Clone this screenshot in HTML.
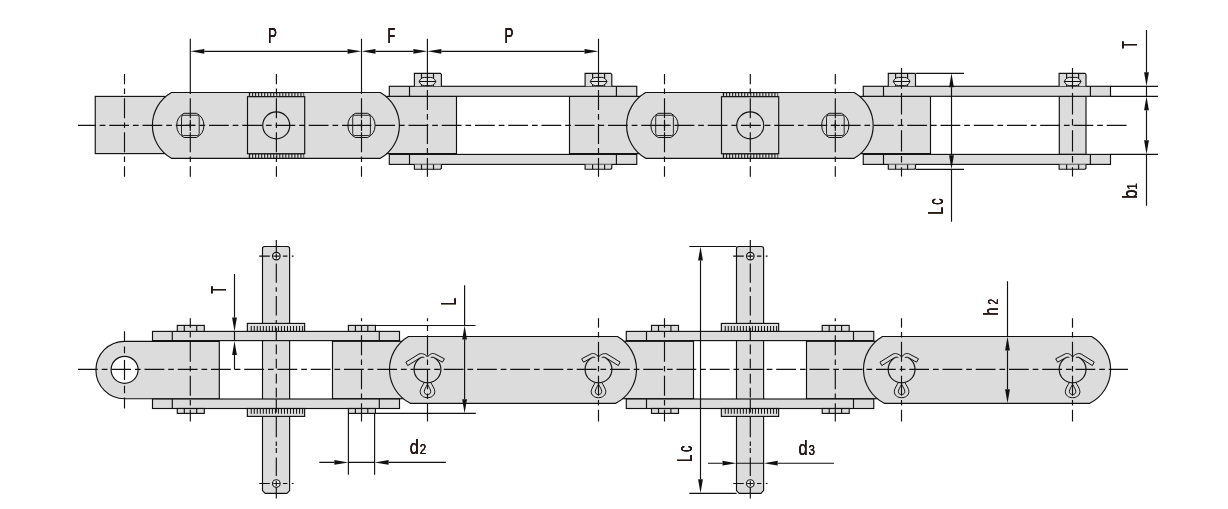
<!DOCTYPE html>
<html lang="en">
<head>
<meta charset="utf-8">
<title>Chain dimension drawing</title>
<style>
html,body{margin:0;padding:0;background:#fff;}
body{width:1228px;height:509px;overflow:hidden;}
svg{display:block;}
text{font-family:"Liberation Sans",sans-serif;fill:#231815;}
</style>
</head>
<body>
<svg width="1228" height="509" viewBox="0 0 1228 509">
<defs><filter id="bh" x="-40%" y="-40%" width="180%" height="180%"><feOffset in="SourceGraphic" dx="0.38" result="a"/><feOffset in="SourceGraphic" dx="-0.38" result="b"/><feMerge><feMergeNode in="a"/><feMergeNode in="b"/><feMergeNode in="SourceGraphic"/></feMerge></filter><filter id="bv" x="-40%" y="-40%" width="180%" height="180%"><feOffset in="SourceGraphic" dy="0.38" result="a"/><feOffset in="SourceGraphic" dy="-0.38" result="b"/><feMerge><feMergeNode in="a"/><feMergeNode in="b"/><feMergeNode in="SourceGraphic"/></feMerge></filter></defs>
<rect x="0" y="0" width="1228" height="509" fill="#ffffff"/>
<g id="topview">
<rect x="95.25" y="96.4" width="69.75" height="57.2" fill="#dcdcdc" stroke="#111111" stroke-width="1.15" />
<rect x="380" y="96.4" width="76.5" height="57.2" fill="#dcdcdc" stroke="#111111" stroke-width="1.15" />
<rect x="569.5" y="96.4" width="76.5" height="57.2" fill="#dcdcdc" stroke="#111111" stroke-width="1.15" />
<rect x="854" y="96.4" width="76.5" height="57.2" fill="#dcdcdc" stroke="#111111" stroke-width="1.15" />
<rect x="1059.3" y="96.3" width="26.7" height="58.1" fill="#dcdcdc" stroke="#111111" stroke-width="1.15" />
<path d="M171.49 92.5 L380.31 92.5 A37.9 37.9 0 0 1 380.31 158.3 L171.49 158.3 A37.9 37.9 0 0 1 171.49 92.5 Z" fill="#dcdcdc" stroke="#111111" stroke-width="1.15" />
<rect x="248.85" y="92.4" width="55.3" height="4.4" fill="#111111"/>
<rect x="250.1" y="93.15" width="2" height="2.9" fill="#dedede"/>
<rect x="253.12" y="93.15" width="2" height="2.9" fill="#dedede"/>
<rect x="256.14" y="93.15" width="2" height="2.9" fill="#dedede"/>
<rect x="259.16" y="93.15" width="2" height="2.9" fill="#dedede"/>
<rect x="262.18" y="93.15" width="2" height="2.9" fill="#dedede"/>
<rect x="265.2" y="93.15" width="2" height="2.9" fill="#dedede"/>
<rect x="268.22" y="93.15" width="2" height="2.9" fill="#dedede"/>
<rect x="271.24" y="93.15" width="2" height="2.9" fill="#dedede"/>
<rect x="274.26" y="93.15" width="2" height="2.9" fill="#dedede"/>
<rect x="277.28" y="93.15" width="2" height="2.9" fill="#dedede"/>
<rect x="280.3" y="93.15" width="2" height="2.9" fill="#dedede"/>
<rect x="283.32" y="93.15" width="2" height="2.9" fill="#dedede"/>
<rect x="286.34" y="93.15" width="2" height="2.9" fill="#dedede"/>
<rect x="289.36" y="93.15" width="2" height="2.9" fill="#dedede"/>
<rect x="292.38" y="93.15" width="2" height="2.9" fill="#dedede"/>
<rect x="295.4" y="93.15" width="2" height="2.9" fill="#dedede"/>
<rect x="298.42" y="93.15" width="2" height="2.9" fill="#dedede"/>
<rect x="301.44" y="93.15" width="2" height="2.9" fill="#dedede"/>
<rect x="248.85" y="153.5" width="55.3" height="5" fill="#111111"/>
<rect x="250.1" y="154.25" width="2" height="3.5" fill="#dedede"/>
<rect x="253.12" y="154.25" width="2" height="3.5" fill="#dedede"/>
<rect x="256.14" y="154.25" width="2" height="3.5" fill="#dedede"/>
<rect x="259.16" y="154.25" width="2" height="3.5" fill="#dedede"/>
<rect x="262.18" y="154.25" width="2" height="3.5" fill="#dedede"/>
<rect x="265.2" y="154.25" width="2" height="3.5" fill="#dedede"/>
<rect x="268.22" y="154.25" width="2" height="3.5" fill="#dedede"/>
<rect x="271.24" y="154.25" width="2" height="3.5" fill="#dedede"/>
<rect x="274.26" y="154.25" width="2" height="3.5" fill="#dedede"/>
<rect x="277.28" y="154.25" width="2" height="3.5" fill="#dedede"/>
<rect x="280.3" y="154.25" width="2" height="3.5" fill="#dedede"/>
<rect x="283.32" y="154.25" width="2" height="3.5" fill="#dedede"/>
<rect x="286.34" y="154.25" width="2" height="3.5" fill="#dedede"/>
<rect x="289.36" y="154.25" width="2" height="3.5" fill="#dedede"/>
<rect x="292.38" y="154.25" width="2" height="3.5" fill="#dedede"/>
<rect x="295.4" y="154.25" width="2" height="3.5" fill="#dedede"/>
<rect x="298.42" y="154.25" width="2" height="3.5" fill="#dedede"/>
<rect x="301.44" y="154.25" width="2" height="3.5" fill="#dedede"/>
<rect x="247.5" y="96.7" width="57.2" height="57" fill="#dcdcdc" stroke="#111111" stroke-width="1.15" />
<circle cx="276.25" cy="125.4" r="13.5" fill="none" stroke="#111111" stroke-width="1.15"/>
<path d="M184.09 113.3 L196.51 113.3 A13.6 13.6 0 0 1 196.51 137.5 L184.09 137.5 A13.6 13.6 0 0 1 184.09 113.3 Z" fill="none" stroke="#111111" stroke-width="1" />
<rect x="181.5" y="115.25" width="17.7" height="20.3" rx="2" ry="2" fill="none" stroke="#111111" stroke-width="0.9"/>
<line x1="190.3" y1="119.7" x2="190.3" y2="131" stroke="#111111" stroke-width="1.15"/>
<line x1="185.7" y1="125.4" x2="194.9" y2="125.4" stroke="#111111" stroke-width="1.15"/>
<path d="M355.29 113.3 L367.71 113.3 A13.6 13.6 0 0 1 367.71 137.5 L355.29 137.5 A13.6 13.6 0 0 1 355.29 113.3 Z" fill="none" stroke="#111111" stroke-width="1" />
<rect x="352.7" y="115.25" width="17.7" height="20.3" rx="2" ry="2" fill="none" stroke="#111111" stroke-width="0.9"/>
<line x1="361.5" y1="119.7" x2="361.5" y2="131" stroke="#111111" stroke-width="1.15"/>
<line x1="356.9" y1="125.4" x2="366.1" y2="125.4" stroke="#111111" stroke-width="1.15"/>
<path d="M645.69 92.5 L854.11 92.5 A37.9 37.9 0 0 1 854.11 158.3 L645.69 158.3 A37.9 37.9 0 0 1 645.69 92.5 Z" fill="#dcdcdc" stroke="#111111" stroke-width="1.15" />
<rect x="722.85" y="92.4" width="55.3" height="4.4" fill="#111111"/>
<rect x="724.1" y="93.15" width="2" height="2.9" fill="#dedede"/>
<rect x="727.12" y="93.15" width="2" height="2.9" fill="#dedede"/>
<rect x="730.14" y="93.15" width="2" height="2.9" fill="#dedede"/>
<rect x="733.16" y="93.15" width="2" height="2.9" fill="#dedede"/>
<rect x="736.18" y="93.15" width="2" height="2.9" fill="#dedede"/>
<rect x="739.2" y="93.15" width="2" height="2.9" fill="#dedede"/>
<rect x="742.22" y="93.15" width="2" height="2.9" fill="#dedede"/>
<rect x="745.24" y="93.15" width="2" height="2.9" fill="#dedede"/>
<rect x="748.26" y="93.15" width="2" height="2.9" fill="#dedede"/>
<rect x="751.28" y="93.15" width="2" height="2.9" fill="#dedede"/>
<rect x="754.3" y="93.15" width="2" height="2.9" fill="#dedede"/>
<rect x="757.32" y="93.15" width="2" height="2.9" fill="#dedede"/>
<rect x="760.34" y="93.15" width="2" height="2.9" fill="#dedede"/>
<rect x="763.36" y="93.15" width="2" height="2.9" fill="#dedede"/>
<rect x="766.38" y="93.15" width="2" height="2.9" fill="#dedede"/>
<rect x="769.4" y="93.15" width="2" height="2.9" fill="#dedede"/>
<rect x="772.42" y="93.15" width="2" height="2.9" fill="#dedede"/>
<rect x="775.44" y="93.15" width="2" height="2.9" fill="#dedede"/>
<rect x="722.85" y="153.5" width="55.3" height="5" fill="#111111"/>
<rect x="724.1" y="154.25" width="2" height="3.5" fill="#dedede"/>
<rect x="727.12" y="154.25" width="2" height="3.5" fill="#dedede"/>
<rect x="730.14" y="154.25" width="2" height="3.5" fill="#dedede"/>
<rect x="733.16" y="154.25" width="2" height="3.5" fill="#dedede"/>
<rect x="736.18" y="154.25" width="2" height="3.5" fill="#dedede"/>
<rect x="739.2" y="154.25" width="2" height="3.5" fill="#dedede"/>
<rect x="742.22" y="154.25" width="2" height="3.5" fill="#dedede"/>
<rect x="745.24" y="154.25" width="2" height="3.5" fill="#dedede"/>
<rect x="748.26" y="154.25" width="2" height="3.5" fill="#dedede"/>
<rect x="751.28" y="154.25" width="2" height="3.5" fill="#dedede"/>
<rect x="754.3" y="154.25" width="2" height="3.5" fill="#dedede"/>
<rect x="757.32" y="154.25" width="2" height="3.5" fill="#dedede"/>
<rect x="760.34" y="154.25" width="2" height="3.5" fill="#dedede"/>
<rect x="763.36" y="154.25" width="2" height="3.5" fill="#dedede"/>
<rect x="766.38" y="154.25" width="2" height="3.5" fill="#dedede"/>
<rect x="769.4" y="154.25" width="2" height="3.5" fill="#dedede"/>
<rect x="772.42" y="154.25" width="2" height="3.5" fill="#dedede"/>
<rect x="775.44" y="154.25" width="2" height="3.5" fill="#dedede"/>
<rect x="721.5" y="96.7" width="57.2" height="57" fill="#dcdcdc" stroke="#111111" stroke-width="1.15" />
<circle cx="750.25" cy="125.4" r="13.5" fill="none" stroke="#111111" stroke-width="1.15"/>
<path d="M658.29 113.3 L670.71 113.3 A13.6 13.6 0 0 1 670.71 137.5 L658.29 137.5 A13.6 13.6 0 0 1 658.29 113.3 Z" fill="none" stroke="#111111" stroke-width="1" />
<rect x="655.7" y="115.25" width="17.7" height="20.3" rx="2" ry="2" fill="none" stroke="#111111" stroke-width="0.9"/>
<line x1="664.5" y1="119.7" x2="664.5" y2="131" stroke="#111111" stroke-width="1.15"/>
<line x1="659.9" y1="125.4" x2="669.1" y2="125.4" stroke="#111111" stroke-width="1.15"/>
<path d="M829.09 113.3 L841.51 113.3 A13.6 13.6 0 0 1 841.51 137.5 L829.09 137.5 A13.6 13.6 0 0 1 829.09 113.3 Z" fill="none" stroke="#111111" stroke-width="1" />
<rect x="826.5" y="115.25" width="17.7" height="20.3" rx="2" ry="2" fill="none" stroke="#111111" stroke-width="0.9"/>
<line x1="835.3" y1="119.7" x2="835.3" y2="131" stroke="#111111" stroke-width="1.15"/>
<line x1="830.7" y1="125.4" x2="839.9" y2="125.4" stroke="#111111" stroke-width="1.15"/>
<rect x="389.3" y="86.3" width="247.45" height="10" fill="#dcdcdc" stroke="#111111" stroke-width="1.15" />
<line x1="409.5" y1="86.3" x2="409.5" y2="96.3" stroke="#111111" stroke-width="1.15"/>
<line x1="616.4" y1="86.3" x2="616.4" y2="96.3" stroke="#111111" stroke-width="1.15"/>
<rect x="389.3" y="154.4" width="247.45" height="10" fill="#dcdcdc" stroke="#111111" stroke-width="1.15" />
<line x1="409.5" y1="154.4" x2="409.5" y2="164.4" stroke="#111111" stroke-width="1.15"/>
<line x1="616.4" y1="154.4" x2="616.4" y2="164.4" stroke="#111111" stroke-width="1.15"/>
<rect x="863.25" y="86.3" width="247.25" height="10" fill="#dcdcdc" stroke="#111111" stroke-width="1.15" />
<line x1="883.5" y1="86.3" x2="883.5" y2="96.3" stroke="#111111" stroke-width="1.15"/>
<line x1="1090.4" y1="86.3" x2="1090.4" y2="96.3" stroke="#111111" stroke-width="1.15"/>
<rect x="863.25" y="154.4" width="247.25" height="10" fill="#dcdcdc" stroke="#111111" stroke-width="1.15" />
<line x1="883.5" y1="154.4" x2="883.5" y2="164.4" stroke="#111111" stroke-width="1.15"/>
<line x1="1090.4" y1="154.4" x2="1090.4" y2="164.4" stroke="#111111" stroke-width="1.15"/>
<path d="M414.4 86.3 L414.4 73.4 L440.4 73.4 L441.4 74.4 L441.4 86.3" fill="#dcdcdc" stroke="#111111" stroke-width="1.15" />
<line x1="421.5" y1="73.4" x2="421.5" y2="86.3" stroke="#111111" stroke-width="1.15"/>
<line x1="433.5" y1="73.4" x2="433.5" y2="86.3" stroke="#111111" stroke-width="1.15"/>
<path d="M419.2 81.5 C420.1 79.1 422.1 77.4 424.3 77.4 L430.7 77.4 C432.9 77.4 434.9 79.1 435.8 81.5 C434.9 83.9 432.9 85.6 430.7 85.6 L424.3 85.6 C422.1 85.6 420.1 83.9 419.2 81.5 Z" fill="#e6e6e6" stroke="#111111" stroke-width="1" />
<line x1="419.2" y1="81.5" x2="435.8" y2="81.5" stroke="#111111" stroke-width="1"/>
<path d="M414.4 164.4 L414.4 169.2 L440.4 169.2 L441.4 168.2 L441.4 164.4" fill="#dcdcdc" stroke="#111111" stroke-width="1.15" />
<line x1="421.5" y1="164.4" x2="421.5" y2="169.2" stroke="#111111" stroke-width="1.15"/>
<line x1="433.5" y1="164.4" x2="433.5" y2="169.2" stroke="#111111" stroke-width="1.15"/>
<path d="M585.1 86.3 L585.1 73.4 L610.8 73.4 L611.8 74.4 L611.8 86.3" fill="#dcdcdc" stroke="#111111" stroke-width="1.15" />
<line x1="592.6" y1="73.4" x2="592.6" y2="86.3" stroke="#111111" stroke-width="1.15"/>
<line x1="604.6" y1="73.4" x2="604.6" y2="86.3" stroke="#111111" stroke-width="1.15"/>
<path d="M590.3 81.5 C591.2 79.1 593.2 77.4 595.4 77.4 L601.8 77.4 C604 77.4 606 79.1 606.9 81.5 C606 83.9 604 85.6 601.8 85.6 L595.4 85.6 C593.2 85.6 591.2 83.9 590.3 81.5 Z" fill="#e6e6e6" stroke="#111111" stroke-width="1" />
<line x1="590.3" y1="81.5" x2="606.9" y2="81.5" stroke="#111111" stroke-width="1"/>
<path d="M585.1 164.4 L585.1 169.2 L610.8 169.2 L611.8 168.2 L611.8 164.4" fill="#dcdcdc" stroke="#111111" stroke-width="1.15" />
<line x1="592.6" y1="164.4" x2="592.6" y2="169.2" stroke="#111111" stroke-width="1.15"/>
<line x1="604.6" y1="164.4" x2="604.6" y2="169.2" stroke="#111111" stroke-width="1.15"/>
<path d="M888.3 86.3 L888.3 73.4 L914.5 73.4 L915.5 74.4 L915.5 86.3" fill="#dcdcdc" stroke="#111111" stroke-width="1.15" />
<line x1="895.6" y1="73.4" x2="895.6" y2="86.3" stroke="#111111" stroke-width="1.15"/>
<line x1="907.6" y1="73.4" x2="907.6" y2="86.3" stroke="#111111" stroke-width="1.15"/>
<path d="M893.3 81.5 C894.2 79.1 896.2 77.4 898.4 77.4 L904.8 77.4 C907 77.4 909 79.1 909.9 81.5 C909 83.9 907 85.6 904.8 85.6 L898.4 85.6 C896.2 85.6 894.2 83.9 893.3 81.5 Z" fill="#e6e6e6" stroke="#111111" stroke-width="1" />
<line x1="893.3" y1="81.5" x2="909.9" y2="81.5" stroke="#111111" stroke-width="1"/>
<path d="M888.3 164.4 L888.3 169.2 L914.5 169.2 L915.5 168.2 L915.5 164.4" fill="#dcdcdc" stroke="#111111" stroke-width="1.15" />
<line x1="895.6" y1="164.4" x2="895.6" y2="169.2" stroke="#111111" stroke-width="1.15"/>
<line x1="907.6" y1="164.4" x2="907.6" y2="169.2" stroke="#111111" stroke-width="1.15"/>
<path d="M1059.1 86.3 L1059.1 73.4 L1085 73.4 L1086 74.4 L1086 86.3" fill="#dcdcdc" stroke="#111111" stroke-width="1.15" />
<line x1="1066.6" y1="73.4" x2="1066.6" y2="86.3" stroke="#111111" stroke-width="1.15"/>
<line x1="1078.6" y1="73.4" x2="1078.6" y2="86.3" stroke="#111111" stroke-width="1.15"/>
<path d="M1064.3 81.5 C1065.2 79.1 1067.2 77.4 1069.4 77.4 L1075.8 77.4 C1078 77.4 1080 79.1 1080.9 81.5 C1080 83.9 1078 85.6 1075.8 85.6 L1069.4 85.6 C1067.2 85.6 1065.2 83.9 1064.3 81.5 Z" fill="#e6e6e6" stroke="#111111" stroke-width="1" />
<line x1="1064.3" y1="81.5" x2="1080.9" y2="81.5" stroke="#111111" stroke-width="1"/>
<path d="M1059.1 164.4 L1059.1 169.2 L1085 169.2 L1086 168.2 L1086 164.4" fill="#dcdcdc" stroke="#111111" stroke-width="1.15" />
<line x1="1066.6" y1="164.4" x2="1066.6" y2="169.2" stroke="#111111" stroke-width="1.15"/>
<line x1="1078.6" y1="164.4" x2="1078.6" y2="169.2" stroke="#111111" stroke-width="1.15"/>
</g>
<g id="sideview">
<path d="M264.7 246.5 L287.4 246.5 Q289.6 246.5 289.6 248.7 L289.6 490.6 L286.9 493.3 L265.2 493.3 L262.5 490.6 L262.5 248.7 Q262.5 246.5 264.7 246.5 Z" fill="#dcdcdc" stroke="#111111" stroke-width="1.15" />
<path d="M738.7 246.5 L761.4 246.5 Q763.6 246.5 763.6 248.7 L763.6 490.6 L760.9 493.3 L739.2 493.3 L736.5 490.6 L736.5 248.7 Q736.5 246.5 738.7 246.5 Z" fill="#dcdcdc" stroke="#111111" stroke-width="1.15" />
<path d="M124.6 341.3 L219.3 341.3 L219.3 398.7 L124.6 398.7 A28.69999999999999 28.69999999999999 0 0 1 124.6 341.3 Z" fill="#dcdcdc" stroke="#111111" stroke-width="1.15" />
<circle cx="124.6" cy="369.8" r="13.5" fill="#fff" stroke="#111111" stroke-width="1.15"/>
<rect x="332.5" y="341.3" width="77.5" height="57.4" fill="#dcdcdc" stroke="#111111" stroke-width="1.15" />
<rect x="616" y="341.3" width="77.5" height="57.4" fill="#dcdcdc" stroke="#111111" stroke-width="1.15" />
<rect x="806.5" y="341.3" width="77.5" height="57.4" fill="#dcdcdc" stroke="#111111" stroke-width="1.15" />
<path d="M408.48 336.5 L617.52 336.5 A38 38 0 0 1 615.67 403.3 L410.33 403.3 A38 38 0 0 1 408.48 336.5 Z" fill="#dcdcdc" stroke="#111111" stroke-width="1.15" />
<path d="M882.48 336.5 L1091.62 336.5 A38 38 0 0 1 1089.77 403.3 L884.33 403.3 A38 38 0 0 1 882.48 336.5 Z" fill="#dcdcdc" stroke="#111111" stroke-width="1.15" />
<rect x="152.5" y="331.4" width="247" height="9.2" fill="#dcdcdc" stroke="#111111" stroke-width="1.15" />
<line x1="172.3" y1="331.4" x2="172.3" y2="340.6" stroke="#111111" stroke-width="1.15"/>
<line x1="379.3" y1="331.4" x2="379.3" y2="340.6" stroke="#111111" stroke-width="1.15"/>
<rect x="152.5" y="399" width="247" height="9.5" fill="#dcdcdc" stroke="#111111" stroke-width="1.15" />
<line x1="172.3" y1="399" x2="172.3" y2="408.5" stroke="#111111" stroke-width="1.15"/>
<line x1="379.3" y1="399" x2="379.3" y2="408.5" stroke="#111111" stroke-width="1.15"/>
<rect x="626.3" y="331.4" width="247.45" height="9.2" fill="#dcdcdc" stroke="#111111" stroke-width="1.15" />
<line x1="646.5" y1="331.4" x2="646.5" y2="340.6" stroke="#111111" stroke-width="1.15"/>
<line x1="853.5" y1="331.4" x2="853.5" y2="340.6" stroke="#111111" stroke-width="1.15"/>
<rect x="626.3" y="399" width="247.45" height="9.5" fill="#dcdcdc" stroke="#111111" stroke-width="1.15" />
<line x1="646.5" y1="399" x2="646.5" y2="408.5" stroke="#111111" stroke-width="1.15"/>
<line x1="853.5" y1="399" x2="853.5" y2="408.5" stroke="#111111" stroke-width="1.15"/>
<rect x="247.35" y="323.4" width="57.3" height="8" fill="#dcdcdc" stroke="#111111" stroke-width="1.15" />
<line x1="251.25" y1="326" x2="251.25" y2="331.4" stroke="#111111" stroke-width="1.0"/>
<line x1="254.27" y1="326" x2="254.27" y2="331.4" stroke="#111111" stroke-width="1.0"/>
<line x1="257.29" y1="326" x2="257.29" y2="331.4" stroke="#111111" stroke-width="1.0"/>
<line x1="260.31" y1="326" x2="260.31" y2="331.4" stroke="#111111" stroke-width="1.0"/>
<line x1="263.33" y1="326" x2="263.33" y2="331.4" stroke="#111111" stroke-width="1.0"/>
<line x1="266.35" y1="326" x2="266.35" y2="331.4" stroke="#111111" stroke-width="1.0"/>
<line x1="269.37" y1="326" x2="269.37" y2="331.4" stroke="#111111" stroke-width="1.0"/>
<line x1="272.39" y1="326" x2="272.39" y2="331.4" stroke="#111111" stroke-width="1.0"/>
<line x1="275.41" y1="326" x2="275.41" y2="331.4" stroke="#111111" stroke-width="1.0"/>
<line x1="278.43" y1="326" x2="278.43" y2="331.4" stroke="#111111" stroke-width="1.0"/>
<line x1="281.45" y1="326" x2="281.45" y2="331.4" stroke="#111111" stroke-width="1.0"/>
<line x1="284.47" y1="326" x2="284.47" y2="331.4" stroke="#111111" stroke-width="1.0"/>
<line x1="287.49" y1="326" x2="287.49" y2="331.4" stroke="#111111" stroke-width="1.0"/>
<line x1="290.51" y1="326" x2="290.51" y2="331.4" stroke="#111111" stroke-width="1.0"/>
<line x1="293.53" y1="326" x2="293.53" y2="331.4" stroke="#111111" stroke-width="1.0"/>
<line x1="296.55" y1="326" x2="296.55" y2="331.4" stroke="#111111" stroke-width="1.0"/>
<line x1="299.57" y1="326" x2="299.57" y2="331.4" stroke="#111111" stroke-width="1.0"/>
<line x1="302.59" y1="326" x2="302.59" y2="331.4" stroke="#111111" stroke-width="1.0"/>
<rect x="247.35" y="408.5" width="57.3" height="7.9" fill="#dcdcdc" stroke="#111111" stroke-width="1.15" />
<line x1="251.25" y1="408.5" x2="251.25" y2="413.8" stroke="#111111" stroke-width="1.0"/>
<line x1="254.27" y1="408.5" x2="254.27" y2="413.8" stroke="#111111" stroke-width="1.0"/>
<line x1="257.29" y1="408.5" x2="257.29" y2="413.8" stroke="#111111" stroke-width="1.0"/>
<line x1="260.31" y1="408.5" x2="260.31" y2="413.8" stroke="#111111" stroke-width="1.0"/>
<line x1="263.33" y1="408.5" x2="263.33" y2="413.8" stroke="#111111" stroke-width="1.0"/>
<line x1="266.35" y1="408.5" x2="266.35" y2="413.8" stroke="#111111" stroke-width="1.0"/>
<line x1="269.37" y1="408.5" x2="269.37" y2="413.8" stroke="#111111" stroke-width="1.0"/>
<line x1="272.39" y1="408.5" x2="272.39" y2="413.8" stroke="#111111" stroke-width="1.0"/>
<line x1="275.41" y1="408.5" x2="275.41" y2="413.8" stroke="#111111" stroke-width="1.0"/>
<line x1="278.43" y1="408.5" x2="278.43" y2="413.8" stroke="#111111" stroke-width="1.0"/>
<line x1="281.45" y1="408.5" x2="281.45" y2="413.8" stroke="#111111" stroke-width="1.0"/>
<line x1="284.47" y1="408.5" x2="284.47" y2="413.8" stroke="#111111" stroke-width="1.0"/>
<line x1="287.49" y1="408.5" x2="287.49" y2="413.8" stroke="#111111" stroke-width="1.0"/>
<line x1="290.51" y1="408.5" x2="290.51" y2="413.8" stroke="#111111" stroke-width="1.0"/>
<line x1="293.53" y1="408.5" x2="293.53" y2="413.8" stroke="#111111" stroke-width="1.0"/>
<line x1="296.55" y1="408.5" x2="296.55" y2="413.8" stroke="#111111" stroke-width="1.0"/>
<line x1="299.57" y1="408.5" x2="299.57" y2="413.8" stroke="#111111" stroke-width="1.0"/>
<line x1="302.59" y1="408.5" x2="302.59" y2="413.8" stroke="#111111" stroke-width="1.0"/>
<rect x="721.35" y="323.4" width="57.3" height="8" fill="#dcdcdc" stroke="#111111" stroke-width="1.15" />
<line x1="725.25" y1="326" x2="725.25" y2="331.4" stroke="#111111" stroke-width="1.0"/>
<line x1="728.27" y1="326" x2="728.27" y2="331.4" stroke="#111111" stroke-width="1.0"/>
<line x1="731.29" y1="326" x2="731.29" y2="331.4" stroke="#111111" stroke-width="1.0"/>
<line x1="734.31" y1="326" x2="734.31" y2="331.4" stroke="#111111" stroke-width="1.0"/>
<line x1="737.33" y1="326" x2="737.33" y2="331.4" stroke="#111111" stroke-width="1.0"/>
<line x1="740.35" y1="326" x2="740.35" y2="331.4" stroke="#111111" stroke-width="1.0"/>
<line x1="743.37" y1="326" x2="743.37" y2="331.4" stroke="#111111" stroke-width="1.0"/>
<line x1="746.39" y1="326" x2="746.39" y2="331.4" stroke="#111111" stroke-width="1.0"/>
<line x1="749.41" y1="326" x2="749.41" y2="331.4" stroke="#111111" stroke-width="1.0"/>
<line x1="752.43" y1="326" x2="752.43" y2="331.4" stroke="#111111" stroke-width="1.0"/>
<line x1="755.45" y1="326" x2="755.45" y2="331.4" stroke="#111111" stroke-width="1.0"/>
<line x1="758.47" y1="326" x2="758.47" y2="331.4" stroke="#111111" stroke-width="1.0"/>
<line x1="761.49" y1="326" x2="761.49" y2="331.4" stroke="#111111" stroke-width="1.0"/>
<line x1="764.51" y1="326" x2="764.51" y2="331.4" stroke="#111111" stroke-width="1.0"/>
<line x1="767.53" y1="326" x2="767.53" y2="331.4" stroke="#111111" stroke-width="1.0"/>
<line x1="770.55" y1="326" x2="770.55" y2="331.4" stroke="#111111" stroke-width="1.0"/>
<line x1="773.57" y1="326" x2="773.57" y2="331.4" stroke="#111111" stroke-width="1.0"/>
<line x1="776.59" y1="326" x2="776.59" y2="331.4" stroke="#111111" stroke-width="1.0"/>
<rect x="721.35" y="408.5" width="57.3" height="7.9" fill="#dcdcdc" stroke="#111111" stroke-width="1.15" />
<line x1="725.25" y1="408.5" x2="725.25" y2="413.8" stroke="#111111" stroke-width="1.0"/>
<line x1="728.27" y1="408.5" x2="728.27" y2="413.8" stroke="#111111" stroke-width="1.0"/>
<line x1="731.29" y1="408.5" x2="731.29" y2="413.8" stroke="#111111" stroke-width="1.0"/>
<line x1="734.31" y1="408.5" x2="734.31" y2="413.8" stroke="#111111" stroke-width="1.0"/>
<line x1="737.33" y1="408.5" x2="737.33" y2="413.8" stroke="#111111" stroke-width="1.0"/>
<line x1="740.35" y1="408.5" x2="740.35" y2="413.8" stroke="#111111" stroke-width="1.0"/>
<line x1="743.37" y1="408.5" x2="743.37" y2="413.8" stroke="#111111" stroke-width="1.0"/>
<line x1="746.39" y1="408.5" x2="746.39" y2="413.8" stroke="#111111" stroke-width="1.0"/>
<line x1="749.41" y1="408.5" x2="749.41" y2="413.8" stroke="#111111" stroke-width="1.0"/>
<line x1="752.43" y1="408.5" x2="752.43" y2="413.8" stroke="#111111" stroke-width="1.0"/>
<line x1="755.45" y1="408.5" x2="755.45" y2="413.8" stroke="#111111" stroke-width="1.0"/>
<line x1="758.47" y1="408.5" x2="758.47" y2="413.8" stroke="#111111" stroke-width="1.0"/>
<line x1="761.49" y1="408.5" x2="761.49" y2="413.8" stroke="#111111" stroke-width="1.0"/>
<line x1="764.51" y1="408.5" x2="764.51" y2="413.8" stroke="#111111" stroke-width="1.0"/>
<line x1="767.53" y1="408.5" x2="767.53" y2="413.8" stroke="#111111" stroke-width="1.0"/>
<line x1="770.55" y1="408.5" x2="770.55" y2="413.8" stroke="#111111" stroke-width="1.0"/>
<line x1="773.57" y1="408.5" x2="773.57" y2="413.8" stroke="#111111" stroke-width="1.0"/>
<line x1="776.59" y1="408.5" x2="776.59" y2="413.8" stroke="#111111" stroke-width="1.0"/>
<rect x="177.3" y="325.4" width="27" height="6" fill="#dcdcdc" stroke="#111111" stroke-width="1.15" />
<line x1="184.3" y1="325.4" x2="184.3" y2="331.4" stroke="#111111" stroke-width="1.15"/>
<line x1="196.7" y1="325.4" x2="196.7" y2="331.4" stroke="#111111" stroke-width="1.15"/>
<rect x="177.3" y="408.5" width="27" height="4.9" fill="#dcdcdc" stroke="#111111" stroke-width="1.15" />
<line x1="184.3" y1="408.5" x2="184.3" y2="413.4" stroke="#111111" stroke-width="1.15"/>
<line x1="196.7" y1="408.5" x2="196.7" y2="413.4" stroke="#111111" stroke-width="1.15"/>
<rect x="348.4" y="325.4" width="27" height="6" fill="#dcdcdc" stroke="#111111" stroke-width="1.15" />
<line x1="355.4" y1="325.4" x2="355.4" y2="331.4" stroke="#111111" stroke-width="1.15"/>
<line x1="367.8" y1="325.4" x2="367.8" y2="331.4" stroke="#111111" stroke-width="1.15"/>
<rect x="348.4" y="408.5" width="27" height="4.9" fill="#dcdcdc" stroke="#111111" stroke-width="1.15" />
<line x1="355.4" y1="408.5" x2="355.4" y2="413.4" stroke="#111111" stroke-width="1.15"/>
<line x1="367.8" y1="408.5" x2="367.8" y2="413.4" stroke="#111111" stroke-width="1.15"/>
<rect x="651.5" y="325.4" width="27" height="6" fill="#dcdcdc" stroke="#111111" stroke-width="1.15" />
<line x1="658.5" y1="325.4" x2="658.5" y2="331.4" stroke="#111111" stroke-width="1.15"/>
<line x1="670.9" y1="325.4" x2="670.9" y2="331.4" stroke="#111111" stroke-width="1.15"/>
<rect x="651.5" y="408.5" width="27" height="4.9" fill="#dcdcdc" stroke="#111111" stroke-width="1.15" />
<line x1="658.5" y1="408.5" x2="658.5" y2="413.4" stroke="#111111" stroke-width="1.15"/>
<line x1="670.9" y1="408.5" x2="670.9" y2="413.4" stroke="#111111" stroke-width="1.15"/>
<rect x="822.2" y="325.4" width="27" height="6" fill="#dcdcdc" stroke="#111111" stroke-width="1.15" />
<line x1="829.2" y1="325.4" x2="829.2" y2="331.4" stroke="#111111" stroke-width="1.15"/>
<line x1="841.6" y1="325.4" x2="841.6" y2="331.4" stroke="#111111" stroke-width="1.15"/>
<rect x="822.2" y="408.5" width="27" height="4.9" fill="#dcdcdc" stroke="#111111" stroke-width="1.15" />
<line x1="829.2" y1="408.5" x2="829.2" y2="413.4" stroke="#111111" stroke-width="1.15"/>
<line x1="841.6" y1="408.5" x2="841.6" y2="413.4" stroke="#111111" stroke-width="1.15"/>
<path d="M424.5 382 C422.7 385.4 420.2 388.9 420.2 391.4 C420.2 395.4 423.5 397.7 427.5 397.7 C431.5 397.7 434.8 395.4 434.8 391.4 C434.8 388.9 432.3 385.4 430.5 382" fill="#dcdcdc" stroke="#111111" stroke-width="1" />
<path d="M427.5 384.2 C426 387.4 424.3 389.4 424.3 391.6 C424.3 393.4 425.7 394.6 427.5 394.6 C429.3 394.6 430.7 393.4 430.7 391.6 C430.7 389.4 429 387.4 427.5 384.2 Z" fill="none" stroke="#111111" stroke-width="1" />
<circle cx="427.5" cy="369.4" r="13.4" fill="#dcdcdc" stroke="#111111" stroke-width="1.15"/>
<path d="M427.3 356.8 C426 354.8 422 352.6 419 354 L405.9 362.1 L407.7 365.6 L420.1 357.8 C421.7 357 423 357 424.3 357.6" fill="#dcdcdc" stroke="#111111" stroke-width="1" />
<path d="M427.7 356.8 C429 354.8 432 352.6 434.7 353.8 L444.4 358.8 L442.4 362.2 L434.7 357.8 C433.3 357 432 357 430.7 357.6" fill="#dcdcdc" stroke="#111111" stroke-width="1" />
<path d="M595.5 382 C593.7 385.4 591.2 388.9 591.2 391.4 C591.2 395.4 594.5 397.7 598.5 397.7 C602.5 397.7 605.8 395.4 605.8 391.4 C605.8 388.9 603.3 385.4 601.5 382" fill="#dcdcdc" stroke="#111111" stroke-width="1" />
<path d="M598.5 384.2 C597 387.4 595.3 389.4 595.3 391.6 C595.3 393.4 596.7 394.6 598.5 394.6 C600.3 394.6 601.7 393.4 601.7 391.6 C601.7 389.4 600 387.4 598.5 384.2 Z" fill="none" stroke="#111111" stroke-width="1" />
<circle cx="598.5" cy="369.4" r="13.4" fill="#dcdcdc" stroke="#111111" stroke-width="1.15"/>
<path d="M598.7 356.8 C600 354.8 604 352.6 607 354 L620.1 362.1 L618.3 365.6 L605.9 357.8 C604.3 357 603 357 601.7 357.6" fill="#dcdcdc" stroke="#111111" stroke-width="1" />
<path d="M598.3 356.8 C597 354.8 594 352.6 591.3 353.8 L581.6 358.8 L583.6 362.2 L591.3 357.8 C592.7 357 594 357 595.3 357.6" fill="#dcdcdc" stroke="#111111" stroke-width="1" />
<path d="M898.6 382 C896.8 385.4 894.3 388.9 894.3 391.4 C894.3 395.4 897.6 397.7 901.6 397.7 C905.6 397.7 908.9 395.4 908.9 391.4 C908.9 388.9 906.4 385.4 904.6 382" fill="#dcdcdc" stroke="#111111" stroke-width="1" />
<path d="M901.6 384.2 C900.1 387.4 898.4 389.4 898.4 391.6 C898.4 393.4 899.8 394.6 901.6 394.6 C903.4 394.6 904.8 393.4 904.8 391.6 C904.8 389.4 903.1 387.4 901.6 384.2 Z" fill="none" stroke="#111111" stroke-width="1" />
<circle cx="901.6" cy="369.4" r="13.4" fill="#dcdcdc" stroke="#111111" stroke-width="1.15"/>
<path d="M901.4 356.8 C900.1 354.8 896.1 352.6 893.1 354 L880 362.1 L881.8 365.6 L894.2 357.8 C895.8 357 897.1 357 898.4 357.6" fill="#dcdcdc" stroke="#111111" stroke-width="1" />
<path d="M901.8 356.8 C903.1 354.8 906.1 352.6 908.8 353.8 L918.5 358.8 L916.5 362.2 L908.8 357.8 C907.4 357 906.1 357 904.8 357.6" fill="#dcdcdc" stroke="#111111" stroke-width="1" />
<path d="M1069.6 382 C1067.8 385.4 1065.3 388.9 1065.3 391.4 C1065.3 395.4 1068.6 397.7 1072.6 397.7 C1076.6 397.7 1079.9 395.4 1079.9 391.4 C1079.9 388.9 1077.4 385.4 1075.6 382" fill="#dcdcdc" stroke="#111111" stroke-width="1" />
<path d="M1072.6 384.2 C1071.1 387.4 1069.4 389.4 1069.4 391.6 C1069.4 393.4 1070.8 394.6 1072.6 394.6 C1074.4 394.6 1075.8 393.4 1075.8 391.6 C1075.8 389.4 1074.1 387.4 1072.6 384.2 Z" fill="none" stroke="#111111" stroke-width="1" />
<circle cx="1072.6" cy="369.4" r="13.4" fill="#dcdcdc" stroke="#111111" stroke-width="1.15"/>
<path d="M1072.8 356.8 C1074.1 354.8 1078.1 352.6 1081.1 354 L1094.2 362.1 L1092.4 365.6 L1080 357.8 C1078.4 357 1077.1 357 1075.8 357.6" fill="#dcdcdc" stroke="#111111" stroke-width="1" />
<path d="M1072.4 356.8 C1071.1 354.8 1068.1 352.6 1065.4 353.8 L1055.7 358.8 L1057.7 362.2 L1065.4 357.8 C1066.8 357 1068.1 357 1069.4 357.6" fill="#dcdcdc" stroke="#111111" stroke-width="1" />
<circle cx="276.3" cy="256.1" r="3.8" fill="#f6f6f6" stroke="#111111" stroke-width="1.15"/>
<circle cx="276.3" cy="483.5" r="3.8" fill="#f6f6f6" stroke="#111111" stroke-width="1.15"/>
<circle cx="750.3" cy="256.1" r="3.8" fill="#f6f6f6" stroke="#111111" stroke-width="1.15"/>
<circle cx="750.3" cy="483.5" r="3.8" fill="#f6f6f6" stroke="#111111" stroke-width="1.15"/>
</g>
<g id="centre">
<line x1="78" y1="125.4" x2="1128" y2="125.4" stroke="#111111" stroke-width="1.15" stroke-dasharray="19.8 3.9 5.7 3.85" stroke-dashoffset="2"/>
<line x1="78" y1="369.4" x2="1128" y2="369.4" stroke="#111111" stroke-width="1.15" stroke-dasharray="19.8 3.9 5.7 3.85" stroke-dashoffset="0"/>
<line x1="124.5" y1="73.9" x2="124.5" y2="176.8" stroke="#111111" stroke-width="1.15" stroke-dasharray="20 4.2 5.6 4.2" stroke-dashoffset="9.7"/>
<line x1="276.4" y1="73.9" x2="276.4" y2="176.8" stroke="#111111" stroke-width="1.15" stroke-dasharray="20 4.2 5.6 4.2" stroke-dashoffset="9.7"/>
<line x1="664.5" y1="73.9" x2="664.5" y2="176.8" stroke="#111111" stroke-width="1.15" stroke-dasharray="20 4.2 5.6 4.2" stroke-dashoffset="9.7"/>
<line x1="750.3" y1="73.9" x2="750.3" y2="176.8" stroke="#111111" stroke-width="1.15" stroke-dasharray="20 4.2 5.6 4.2" stroke-dashoffset="9.7"/>
<line x1="835.3" y1="73.9" x2="835.3" y2="176.8" stroke="#111111" stroke-width="1.15" stroke-dasharray="20 4.2 5.6 4.2" stroke-dashoffset="9.7"/>
<line x1="190.3" y1="38.8" x2="190.3" y2="92" stroke="#111111" stroke-width="1.15"/>
<line x1="190.3" y1="92" x2="190.3" y2="176.8" stroke="#111111" stroke-width="1.15" stroke-dasharray="20 4.2 5.6 4.2" stroke-dashoffset="27.8"/>
<line x1="361.5" y1="38.8" x2="361.5" y2="92" stroke="#111111" stroke-width="1.15"/>
<line x1="361.5" y1="92" x2="361.5" y2="176.8" stroke="#111111" stroke-width="1.15" stroke-dasharray="20 4.2 5.6 4.2" stroke-dashoffset="27.8"/>
<line x1="427.4" y1="38.8" x2="427.4" y2="86.3" stroke="#111111" stroke-width="1.15"/>
<line x1="427.4" y1="86.3" x2="427.4" y2="176.8" stroke="#111111" stroke-width="1.15" stroke-dasharray="20 4.2 5.6 4.2" stroke-dashoffset="30.4"/>
<line x1="598.5" y1="38.8" x2="598.5" y2="86.3" stroke="#111111" stroke-width="1.15"/>
<line x1="598.5" y1="86.3" x2="598.5" y2="176.8" stroke="#111111" stroke-width="1.15" stroke-dasharray="20 4.2 5.6 4.2" stroke-dashoffset="30.4"/>
<path d="M901.5 67.9V88.7 M901.5 93.1V114.5 M901.5 118.9V125.5 M901.5 130.2V151.6 M901.5 156V162.6 M901.5 167.3V176.5" fill="none" stroke="#111111" stroke-width="1.15" />
<path d="M1072.5 67.9V88.7 M1072.5 93.1V114.5 M1072.5 118.9V125.5 M1072.5 130.2V151.6 M1072.5 156V162.6 M1072.5 167.3V176.5" fill="none" stroke="#111111" stroke-width="1.15" />
<line x1="190.3" y1="318.2" x2="190.3" y2="421.5" stroke="#111111" stroke-width="1.15" stroke-dasharray="20 4.2 5.6 4.2" stroke-dashoffset="10.4"/>
<line x1="598.5" y1="318.2" x2="598.5" y2="421.5" stroke="#111111" stroke-width="1.15" stroke-dasharray="20 4.2 5.6 4.2" stroke-dashoffset="10.4"/>
<line x1="664.5" y1="318.2" x2="664.5" y2="421.5" stroke="#111111" stroke-width="1.15" stroke-dasharray="20 4.2 5.6 4.2" stroke-dashoffset="10.4"/>
<line x1="901.5" y1="318.2" x2="901.5" y2="421.5" stroke="#111111" stroke-width="1.15" stroke-dasharray="20 4.2 5.6 4.2" stroke-dashoffset="10.4"/>
<line x1="1072.5" y1="318.2" x2="1072.5" y2="421.5" stroke="#111111" stroke-width="1.15" stroke-dasharray="20 4.2 5.6 4.2" stroke-dashoffset="10.4"/>
<line x1="361.5" y1="318.2" x2="361.5" y2="421.5" stroke="#111111" stroke-width="1.15" stroke-dasharray="20 4.2 5.6 4.2" stroke-dashoffset="16.9"/>
<line x1="427.5" y1="318.2" x2="427.5" y2="421.5" stroke="#111111" stroke-width="1.15" stroke-dasharray="20 4.2 5.6 4.2" stroke-dashoffset="16.9"/>
<line x1="835.3" y1="318.2" x2="835.3" y2="421.5" stroke="#111111" stroke-width="1.15" stroke-dasharray="20 4.2 5.6 4.2" stroke-dashoffset="16.9"/>
<path d="M124.5 331.3V341.5 M124.5 346.5V353.2 M124.5 359.9V380 M124.5 385.8V393.3 M124.5 397.5V408.5" fill="none" stroke="#111111" stroke-width="1.15" />
<path d="M276.3 239.9V251.9 M276.3 253.4V258.8 M276.3 263.4V282.8 M276.3 287.2V291.7 M276.3 296V315.5 M276.3 320V323.4 M276.3 327.8V340.2 M276.3 344.5V354.3 M276.3 358.7V368.4 M276.3 373.7V383.4 M276.3 387.8V397.5 M276.3 399.3V412.5 M276.3 416.9V437.2 M276.3 441.6V446 M276.3 448V453 M276.3 457.5V476 M276.3 481V486 M276.3 488V498.5" fill="none" stroke="#111111" stroke-width="1.15" />
<path d="M259.2 256.1H269.8 M273.3 256.1H279.5 M283 256.1H287.4 M291.8 256.1H293.6" fill="none" stroke="#111111" stroke-width="1.15" />
<path d="M259.2 483.5H269.8 M273.3 483.5H279.5 M283 483.5H287.4 M291.8 483.5H293.6" fill="none" stroke="#111111" stroke-width="1.15" />
<path d="M750.3 239.9V251.9 M750.3 253.4V258.8 M750.3 263.4V282.8 M750.3 287.2V291.7 M750.3 296V315.5 M750.3 320V323.4 M750.3 327.8V340.2 M750.3 344.5V354.3 M750.3 358.7V368.4 M750.3 373.7V383.4 M750.3 387.8V397.5 M750.3 399.3V412.5 M750.3 416.9V437.2 M750.3 441.6V446 M750.3 448V453 M750.3 457.5V476 M750.3 481V486 M750.3 488V498.5" fill="none" stroke="#111111" stroke-width="1.15" />
<path d="M733.2 256.1H743.8 M747.3 256.1H753.5 M757 256.1H761.4 M765.8 256.1H767.6" fill="none" stroke="#111111" stroke-width="1.15" />
<path d="M733.2 483.5H743.8 M747.3 483.5H753.5 M757 483.5H761.4 M765.8 483.5H767.6" fill="none" stroke="#111111" stroke-width="1.15" />
</g>
<g id="dims">
<path d="M204.3 51.3H347.5 M375.5 51.3H413.4 M441.4 51.3H584.5" fill="none" stroke="#111111" stroke-width="1.15" />
<polygon points="190.3,51.3 204.3,48.9 204.3,53.7" fill="#111111"/>
<polygon points="361.5,51.3 347.5,48.9 347.5,53.7" fill="#111111"/>
<polygon points="361.5,51.3 375.5,48.9 375.5,53.7" fill="#111111"/>
<polygon points="427.4,51.3 413.4,48.9 413.4,53.7" fill="#111111"/>
<polygon points="427.4,51.3 441.4,48.9 441.4,53.7" fill="#111111"/>
<polygon points="598.5,51.3 584.5,48.9 584.5,53.7" fill="#111111"/>
<line x1="915.5" y1="73.3" x2="964" y2="73.3" stroke="#111111" stroke-width="1.15"/>
<line x1="915.5" y1="169.3" x2="964" y2="169.3" stroke="#111111" stroke-width="1.15"/>
<path d="M951.5 87.3V155.3 M951.5 169.3V221.8" fill="none" stroke="#111111" stroke-width="1.15" />
<polygon points="951.5,73.3 949.1,87.3 953.9,87.3" fill="#111111"/>
<polygon points="951.5,169.3 949.1,155.3 953.9,155.3" fill="#111111"/>
<line x1="1110.5" y1="86.3" x2="1158" y2="86.3" stroke="#111111" stroke-width="1.15"/>
<line x1="1110.5" y1="96.3" x2="1158" y2="96.3" stroke="#111111" stroke-width="1.15"/>
<line x1="1110.5" y1="154.3" x2="1158" y2="154.3" stroke="#111111" stroke-width="1.15"/>
<path d="M1146.5 30V72.3 M1146.5 86.3V96.3 M1146.5 110.3V140.3 M1146.5 154.3V205.7" fill="none" stroke="#111111" stroke-width="1.15" />
<polygon points="1146.5,86.3 1144.1,72.3 1148.9,72.3" fill="#111111"/>
<polygon points="1146.5,96.3 1144.1,110.3 1148.9,110.3" fill="#111111"/>
<polygon points="1146.5,154.3 1144.1,140.3 1148.9,140.3" fill="#111111"/>
<path d="M234.5 274V317.4 M234.5 331.4V341 M234.5 355V369.4" fill="none" stroke="#111111" stroke-width="1.15" />
<polygon points="234.5,331.4 232.1,317.4 236.9,317.4" fill="#111111"/>
<polygon points="234.5,341 232.1,355 236.9,355" fill="#111111"/>
<line x1="375" y1="325.5" x2="475.6" y2="325.5" stroke="#111111" stroke-width="1.15"/>
<line x1="375" y1="413.3" x2="475.8" y2="413.3" stroke="#111111" stroke-width="1.15"/>
<path d="M464.6 285.2V325.5 M464.6 339.5V399.3" fill="none" stroke="#111111" stroke-width="1.15" />
<polygon points="464.6,325.5 462.2,339.5 467,339.5" fill="#111111"/>
<polygon points="464.6,413.3 462.2,399.3 467,399.3" fill="#111111"/>
<line x1="348.4" y1="413.4" x2="348.4" y2="474.8" stroke="#111111" stroke-width="1.15"/>
<line x1="374.6" y1="413.4" x2="374.6" y2="474.8" stroke="#111111" stroke-width="1.15"/>
<path d="M319.3 462.4H334.4 M348.4 462.4H374.6 M388.6 462.4H445.9" fill="none" stroke="#111111" stroke-width="1.15" />
<polygon points="348.4,462.4 334.4,460 334.4,464.8" fill="#111111"/>
<polygon points="374.6,462.4 388.6,460 388.6,464.8" fill="#111111"/>
<line x1="689.3" y1="246.5" x2="736.5" y2="246.5" stroke="#111111" stroke-width="1.15"/>
<line x1="689.3" y1="493.3" x2="736.5" y2="493.3" stroke="#111111" stroke-width="1.15"/>
<path d="M700.5 260.5V479.3" fill="none" stroke="#111111" stroke-width="1.15" />
<polygon points="700.5,246.5 698.1,260.5 702.9,260.5" fill="#111111"/>
<polygon points="700.5,493.3 698.1,479.3 702.9,479.3" fill="#111111"/>
<path d="M708 463.2H722.5 M736.5 463.2H763.7 M777.7 463.2H834" fill="none" stroke="#111111" stroke-width="1.15" />
<polygon points="736.5,463.2 722.5,460.8 722.5,465.6" fill="#111111"/>
<polygon points="763.7,463.2 777.7,460.8 777.7,465.6" fill="#111111"/>
<path d="M1007.5 281.2V336.5 M1007.5 350.5V389.3" fill="none" stroke="#111111" stroke-width="1.15" />
<polygon points="1007.5,336.5 1005.1,350.5 1009.9,350.5" fill="#111111"/>
<polygon points="1007.5,403.3 1005.1,389.3 1009.9,389.3" fill="#111111"/>
</g>
<g id="labels">
<g filter="url(#bh)"><text transform="translate(268 42.8) scale(0.62 1)" font-size="21.6">P</text></g>
<g filter="url(#bh)"><text transform="translate(387.5 42.8) scale(0.58 1)" font-size="21.6">F</text></g>
<g filter="url(#bh)"><text transform="translate(504.6 42.8) scale(0.62 1)" font-size="21.6">P</text></g>
<g filter="url(#bv)"><text transform="translate(1136.9 48.45) rotate(-90) scale(0.56 1)" font-size="21.6">T</text></g>
<g filter="url(#bv)"><text transform="translate(1137.1 198.6) rotate(-90) scale(0.77 1)" font-size="20.8">b<tspan font-size="14.8" dx="0.39">1</tspan></text></g>
<g filter="url(#bv)"><text transform="translate(943 214.6) rotate(-90) scale(0.62 1)" font-size="21.6">L<tspan font-size="20.4" dx="3.87">c</tspan></text></g>
<g filter="url(#bv)"><text transform="translate(226 293.45) rotate(-90) scale(0.56 1)" font-size="21.6">T</text></g>
<g filter="url(#bv)"><text transform="translate(456 305.35) rotate(-90) scale(0.6 1)" font-size="21.6">L</text></g>
<g filter="url(#bh)"><text transform="translate(409.75 453.8) scale(0.78 1)" font-size="20.8">d<tspan font-size="14.8" dx="1.28">2</tspan></text></g>
<g filter="url(#bv)"><text transform="translate(692.2 461.9) rotate(-90) scale(0.62 1)" font-size="21.6">L<tspan font-size="20.4" dx="3.87">c</tspan></text></g>
<g filter="url(#bh)"><text transform="translate(798.5 454.6) scale(0.78 1)" font-size="20.8">d<tspan font-size="14.8" dx="1.28">3</tspan></text></g>
<g filter="url(#bv)"><text transform="translate(998 315.45) rotate(-90) scale(0.68 1)" font-size="20.8">h<tspan font-size="14.8" dx="4.71">2</tspan></text></g>
</g>
</svg>
</body>
</html>
